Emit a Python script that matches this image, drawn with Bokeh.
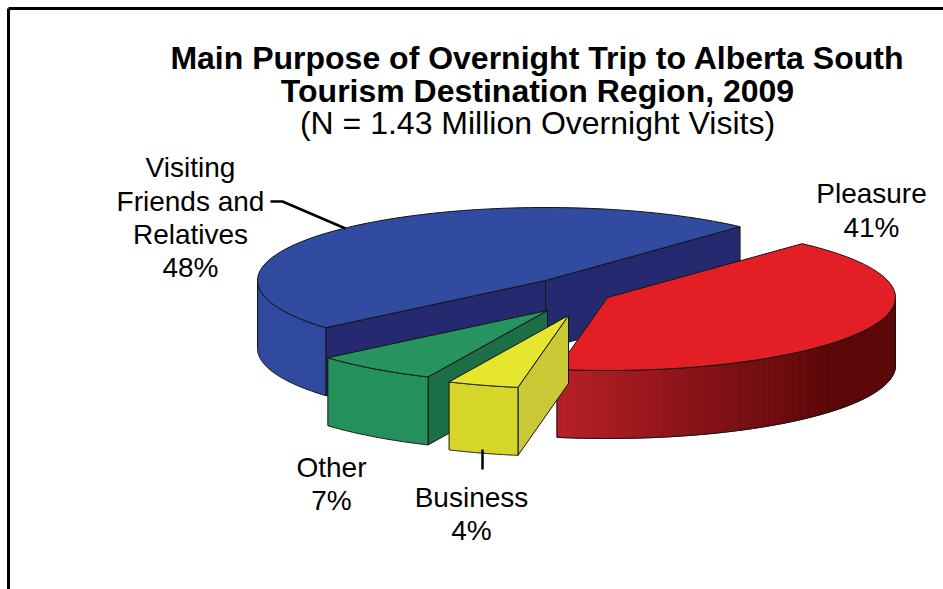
import numpy as np
from bokeh.plotting import figure
from bokeh.models import Range1d, ColumnDataSource
from bokeh.core.properties import value
from bokeh.embed import file_html
from bokeh.resources import INLINE

# ---------------- data ----------------
categories = ["Visiting Friends and Relatives", "Pleasure", "Business", "Other"]
shares = [48, 41, 4, 7]
label_lines = [["Visiting", "Friends and", "Relatives", "48%"],
               ["Pleasure", "41%"],
               ["Business", "4%"],
               ["Other", "7%"]]
title_lines = ["Main Purpose of Overnight Trip to Alberta South",
               "Tourism Destination Region, 2009"]
subtitle = "(N = 1.43 Million Overnight Visits)"

# ---------------- style / layout ----------------
W, H = 943, 589
CX, CY = 545, 280          # pie centre (top face)
RX, RY, DEPTH = 288, 73, 68
START = 220.3              # degrees, first slice runs clockwise from here
offsets = [(0, 0), (62, 17), (23, 35), (2, 30)]     # explode offsets
top_col = ["#304BA0", "#E31E25", "#E6E62E", "#27945F"]
wall_col = ["#2E499D", None, "#D6D62A", "#24905C"]
face_col = ["#252A70", "#8E1218", "#C9C935", "#1C6E47"]
EDGE = "#151515"
FONT = "Liberation Sans"
draw_order = [0, 1, 3, 2]

p = figure(width=W, height=H, x_range=Range1d(0, W), y_range=Range1d(H, 0),
           output_backend="svg", toolbar_location=None, min_border=0)
p.axis.visible = False
p.grid.visible = False
p.outline_line_color = None
p.background_fill_color = "white"

# slice angles (counter-clockwise intervals [a_start, a_end])
total = float(sum(shares))
spans = [v / total * 360.0 for v in shares]
intervals = []
end = START
for s in spans:
    intervals.append((end - s, end))
    end -= s


def pt(ox, oy, a, down=0.0):
    r = np.radians(a)
    return ox + RX * np.cos(r), oy - RY * np.sin(r) + down


def arc(ox, oy, a1, a2, down=0.0, n=80):
    ang = np.radians(np.linspace(a1, a2, n))
    return list(ox + RX * np.cos(ang)), list(oy - RY * np.sin(ang) + down)


xs, ys, fc, fa, lc, la = [], [], [], [], [], []


def add(px, py, color, fill_alpha=1.0, line_color=EDGE, line_alpha=1.0):
    xs.append(list(px)); ys.append(list(py)); fc.append(color)
    fa.append(fill_alpha); lc.append(line_color); la.append(line_alpha)


def front_parts(a1, a2):
    parts = []
    for k in (-1, 0, 1):
        lo, hi = -180 + 360 * k, 360 * k
        s, e = max(a1, lo), min(a2, hi)
        if e > s:
            parts.append((s, e))
    return parts


for i in draw_order:
    a1, a2 = intervals[i]
    ox, oy = CX + offsets[i][0], CY + offsets[i][1]
    # radial faces that face the viewer
    for a, vis in ((a1, np.cos(np.radians(a1)) > 0), (a2, np.cos(np.radians(a2)) < 0)):
        if vis:
            ex, ey = pt(ox, oy, a)
            add([ox, ex, ex, ox], [oy, ey, ey + DEPTH, oy + DEPTH], face_col[i])
    # outer wall (front part)
    for s, e in front_parts(a1, a2):
        tx, ty = arc(ox, oy, s, e)
        bx, by = arc(ox, oy, s, e, DEPTH)
        if wall_col[i] is None:
            # shaded wall: strips with a left-to-right gradient
            n = 70
            edges = np.linspace(s, e, n + 1)
            c0 = np.array([184, 32, 40]); c1 = np.array([92, 8, 9])
            x_left, x_right = pt(ox, oy, s)[0], ox + RX * 0.78
            for j in range(n):
                sx, sy = arc(ox, oy, edges[j], edges[j + 1], n=4)
                sbx, sby = arc(ox, oy, edges[j], edges[j + 1], DEPTH, n=4)
                xm = np.mean(sx)
                t = min(max((xm - x_left) / (x_right - x_left), 0), 1)
                c = "#%02x%02x%02x" % tuple((c0 + (c1 - c0) * t).astype(int))
                add(sx + sbx[::-1], sy + sby[::-1], c, 1.0, c, 1.0)
            add(tx + bx[::-1], ty + by[::-1], "#000000", 0.0, EDGE, 1.0)
        else:
            add(tx + bx[::-1], ty + by[::-1], wall_col[i])
    # top face
    tx, ty = arc(ox, oy, a1, a2)
    add([ox] + tx, [oy] + ty, top_col[i])

src = ColumnDataSource(dict(xs=xs, ys=ys, fc=fc, fa=fa, lc=lc, la=la))
p.patches("xs", "ys", source=src, fill_color="fc", fill_alpha="fa",
          line_color="lc", line_alpha="la", line_width=1)

# leader lines
p.line([270, 282, 345], [201, 201, 228], line_color="black", line_width=2.5)
p.line([482, 482], [449, 469], line_color="black", line_width=2.5)

# frame (top and left edges)
p.line([8, W], [8, 8], line_color="black", line_width=3)
p.line([8, 8], [8, H], line_color="black", line_width=3)

# titles
for txt, yb in zip(title_lines, [57, 90]):
    p.text(x=[537], y=[yb], text=[txt], text_font=value(FONT), text_font_style="bold",
           text_font_size="32px", text_align="center", text_baseline="alphabetic",
           text_color="black")
p.text(x=[537], y=[122], text=[subtitle], text_font=value(FONT),
       text_font_size="32px", text_align="center", text_baseline="alphabetic",
       text_color="black")

# slice labels
label_pos = [(190, [167, 201, 234, 267]), (871, [193, 227]),
             (471, [497, 530]), (331, [467, 500])]
for lines, (lx, lys) in zip(label_lines, label_pos):
    p.text(x=[lx] * len(lines), y=lys, text=lines, text_font=value(FONT),
           text_font_size="28px", text_align="center", text_baseline="alphabetic",
           text_color="black")

open("out.html", "w").write(file_html(p, INLINE))
